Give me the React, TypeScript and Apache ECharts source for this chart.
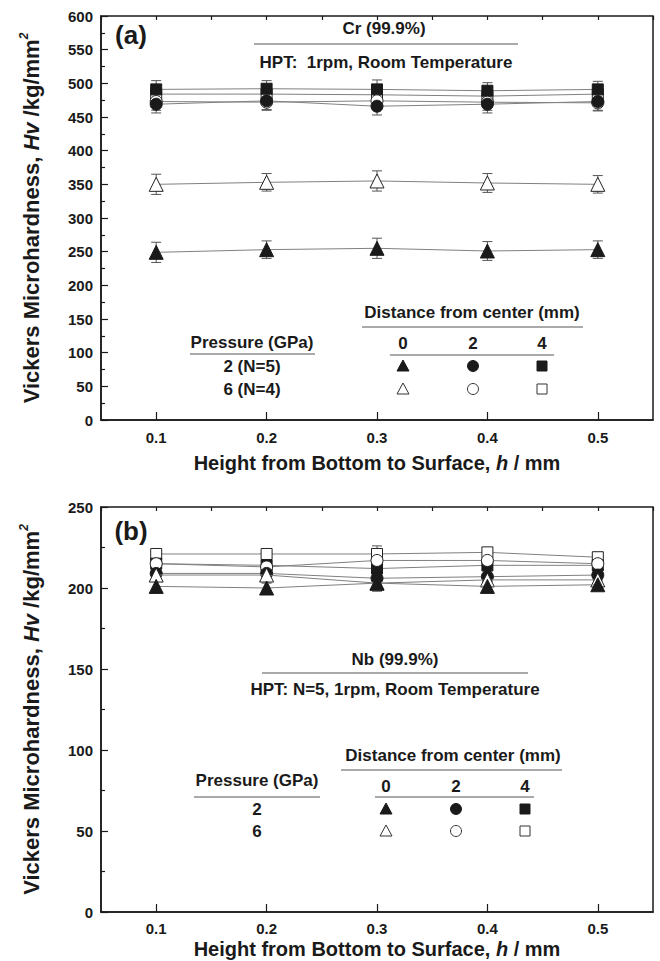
import React, { useEffect, useRef } from 'react';
import * as echarts from 'echarts';

// ---------- data ----------
const heights = [0.1, 0.2, 0.3, 0.4, 0.5];

// Panel (a) Cr: Pressure (GPa) / Distance from center (mm)
const crP2D0 = [249, 253, 255, 251, 253];
const crP2D0Err = [15, 13, 15, 14, 13];
const crP6D0 = [350, 353, 355, 352, 350];
const crP6D0Err = [15, 13, 15, 14, 13];
const crP2D2 = [469, 474, 466, 469, 473];
const crP2D2Err = [13, 13, 13, 13, 13];
const crP6D2 = [473, 472, 474, 472, 471];
const crP6D2Err = [13, 12, 13, 12, 12];
const crP2D4 = [491, 492, 491, 489, 491];
const crP2D4Err = [13, 12, 14, 12, 12];
const crP6D4 = [484, 484, 483, 481, 484];
const crP6D4Err = [12, 12, 13, 12, 12];

// Panel (b) Nb
const nbP2D0 = [201, 200, 203, 201, 202];
const nbP2D0Err = [3, 3, 3, 3, 3];
const nbP6D0 = [208, 208, 203, 205, 205];
const nbP6D0Err = [3, 3, 5, 3, 3];
const nbP2D2 = [209, 209, 206, 207, 208];
const nbP2D2Err = [3, 3, 3, 3, 3];
const nbP6D2 = [215, 213, 217, 217, 215];
const nbP6D2Err = [3, 3, 3, 3, 3];
const nbP2D4 = [215, 214, 212, 214, 214];
const nbP2D4Err = [3, 3, 3, 3, 3];
const nbP6D4 = [221, 221, 221, 222, 219];
const nbP6D4Err = [3, 3, 5, 3, 3];

const xMajorTicks = [0.1, 0.2, 0.3, 0.4, 0.5];

// ---------- style ----------
const FONT = '"Liberation Sans", Arial, Helvetica, sans-serif';
const INK = '#1a1a1a';
const LINE_GRAY = '#808080';
const ERR_GRAY = '#555';

type Spec = { data: number[]; err: number[]; symbol: string; filled: boolean; size: number };

const symSize = (s: string) => (s === 'triangle' ? 14 : s === 'circle' ? 12 : 11);

function makeSeries(specs: Spec[], axisIdx: number, gridXIdx: number) {
  const out: any[] = [];
  specs.forEach((s, i) => {
    out.push({
      type: 'custom',
      xAxisIndex: gridXIdx,
      yAxisIndex: axisIdx,
      z: 2,
      silent: true,
      data: heights.map((h, k) => [h, s.data[k] - s.err[k], s.data[k] + s.err[k]]),
      encode: { x: 0, y: [1, 2] },
      renderItem: (params: any, api: any) => {
        const x = api.value(0);
        const lo = api.coord([x, api.value(1)]);
        const hi = api.coord([x, api.value(2)]);
        const w = 5;
        const st = { stroke: ERR_GRAY, lineWidth: 1 };
        return {
          type: 'group',
          children: [
            { type: 'line', shape: { x1: lo[0], y1: lo[1], x2: hi[0], y2: hi[1] }, style: st },
            { type: 'line', shape: { x1: lo[0] - w, y1: lo[1], x2: lo[0] + w, y2: lo[1] }, style: st },
            { type: 'line', shape: { x1: hi[0] - w, y1: hi[1], x2: hi[0] + w, y2: hi[1] }, style: st },
          ],
        };
      },
    });
    out.push({
      type: 'line',
      xAxisIndex: gridXIdx,
      yAxisIndex: axisIdx,
      z: 3 + i,
      data: heights.map((h, k) => [h, s.data[k]]),
      symbol: s.symbol,
      symbolSize: s.size,
      showSymbol: true,
      lineStyle: { color: LINE_GRAY, width: 1 },
      itemStyle: s.filled
        ? { color: INK, borderColor: INK, borderWidth: 1 }
        : { color: '#fff', borderColor: '#222', borderWidth: 1 },
      emphasis: { disabled: true },
    });
  });
  return out;
}

const specsA: Spec[] = [
  { data: crP2D0, err: crP2D0Err, symbol: 'triangle', filled: true, size: symSize('triangle') },
  { data: crP6D0, err: crP6D0Err, symbol: 'triangle', filled: false, size: symSize('triangle') },
  { data: crP6D4, err: crP6D4Err, symbol: 'rect', filled: false, size: symSize('rect') },
  { data: crP2D4, err: crP2D4Err, symbol: 'rect', filled: true, size: symSize('rect') },
  { data: crP6D2, err: crP6D2Err, symbol: 'circle', filled: false, size: symSize('circle') },
  { data: crP2D2, err: crP2D2Err, symbol: 'circle', filled: true, size: symSize('circle') },
];
const specsB: Spec[] = [
  { data: nbP6D4, err: nbP6D4Err, symbol: 'rect', filled: false, size: symSize('rect') },
  { data: nbP2D4, err: nbP2D4Err, symbol: 'rect', filled: true, size: symSize('rect') },
  { data: nbP6D2, err: nbP6D2Err, symbol: 'circle', filled: false, size: symSize('circle') },
  { data: nbP2D2, err: nbP2D2Err, symbol: 'circle', filled: true, size: symSize('circle') },
  { data: nbP6D0, err: nbP6D0Err, symbol: 'triangle', filled: false, size: symSize('triangle') },
  { data: nbP2D0, err: nbP2D0Err, symbol: 'triangle', filled: true, size: symSize('triangle') },
];

const yName = {
  name: '{a|Vickers Microhardness, }{i|Hv}{a| /kg/mm}{s|2}',
  nameLocation: 'middle' as const,
  nameGap: 56,
  nameTextStyle: {
    rich: {
      a: { fontFamily: FONT, fontWeight: 'bold', fontSize: 22, color: INK, lineHeight: 27 },
      i: { fontFamily: FONT, fontWeight: 'bold', fontStyle: 'italic', fontSize: 22, color: INK, lineHeight: 27 },
      s: { fontFamily: FONT, fontWeight: 'bold', fontStyle: 'italic', fontSize: 12, color: INK, lineHeight: 27, verticalAlign: 'top' },
    },
  },
};
function xName(gap: number) {
  return {
    name: '{a|Height from Bottom to Surface, }{i|h}{a| / mm}',
    nameLocation: 'middle' as const,
    nameGap: gap,
    nameTextStyle: {
      rich: {
        a: { fontFamily: FONT, fontWeight: 'bold', fontSize: 20, color: INK },
        i: { fontFamily: FONT, fontWeight: 'bold', fontStyle: 'italic', fontSize: 20, color: INK },
      },
    },
  };
}

const axisLine = { show: true, lineStyle: { color: INK, width: 1.5 } };
const tickLabel = { fontFamily: FONT, fontWeight: 'bold', fontSize: 15, color: INK };

function xAxesFor(gridIndex: number, gap: number, labelMargin: number) {
  return [
    {
      type: 'value',
      gridIndex,
      min: 0.05,
      max: 0.55,
      interval: 0.05,
      axisLine,
      splitLine: { show: false },
      axisTick: { show: true, inside: true, length: 8, customValues: xMajorTicks, lineStyle: { color: INK, width: 1.2 } },
      axisLabel: {
        ...tickLabel,
        margin: labelMargin,
        customValues: xMajorTicks,
        formatter: (v: number) => {
          const r = Math.round(v * 100);
          return r % 10 === 0 ? (r / 100).toFixed(1) : '';
        },
      },
      ...xName(gap),
    },
    {
      type: 'value',
      gridIndex,
      min: 0.05,
      max: 0.55,
      interval: 0.05,
      axisLine: { show: false },
      splitLine: { show: false },
      axisTick: { show: true, inside: true, length: 4, lineStyle: { color: INK, width: 1.2 } },
      axisLabel: { show: false },
    },
  ];
}

function yAxisFor(gridIndex: number, max: number) {
  return {
    type: 'value',
    gridIndex,
    min: 0,
    max,
    interval: 50,
    axisLine,
    splitLine: { show: false },
    axisTick: { show: true, inside: true, length: 7, lineStyle: { color: INK, width: 1.2 } },
    minorTick: { show: true, splitNumber: 2, length: 4, lineStyle: { color: INK, width: 1.2 } },
    minorSplitLine: { show: false },
    axisLabel: { ...tickLabel, margin: 8 },
    ...yName,
  };
}

// ---------- annotation helpers ----------
function txt(text: string, x: number, y: number, size: number, italic = false, align = 'center') {
  return {
    type: 'text',
    x,
    y,
    silent: true,
    z: 50,
    style: {
      text,
      fill: INK,
      font: `${italic ? 'italic ' : ''}bold ${size}px ${FONT}`,
      align,
      verticalAlign: 'middle',
      textAlign: align,
      textVerticalAlign: 'middle',
    },
  };
}
function hline(x1: number, x2: number, y: number) {
  return { type: 'line', silent: true, z: 50, shape: { x1, y1: y, x2, y2: y }, style: { stroke: '#555', lineWidth: 1 } };
}
function marker(kind: string, filled: boolean, cx: number, cy: number) {
  const style = filled ? { fill: INK, stroke: INK, lineWidth: 1 } : { fill: '#fff', stroke: '#333', lineWidth: 1 };
  if (kind === 'triangle') {
    return { type: 'polygon', silent: true, z: 50, shape: { points: [[cx, cy - 6], [cx + 6, cy + 5], [cx - 6, cy + 5]] }, style };
  }
  if (kind === 'circle') {
    return { type: 'circle', silent: true, z: 50, shape: { cx, cy, r: 5.5 }, style };
  }
  return { type: 'rect', silent: true, z: 50, shape: { x: cx - 5, y: cy - 5, width: 10, height: 10 }, style };
}

function legendBlock(opts: {
  distY: number; distX: number; distLine: [number, number, number];
  presX: number; presY: number; presLine: [number, number, number];
  colXs: number[]; headY: number; headLine: [number, number, number];
  row1: string; row2: string; row1Y: number; row2Y: number;
}) {
  const els: any[] = [];
  els.push(txt('Distance from center (mm)', opts.distX, opts.distY, 17));
  els.push(hline(opts.distLine[0], opts.distLine[1], opts.distLine[2]));
  els.push(txt('Pressure (GPa)', opts.presX, opts.presY, 17));
  els.push(hline(opts.presLine[0], opts.presLine[1], opts.presLine[2]));
  ['0', '2', '4'].forEach((t, i) => els.push(txt(t, opts.colXs[i], opts.headY, 17)));
  els.push(hline(opts.headLine[0], opts.headLine[1], opts.headLine[2]));
  els.push(txt(opts.row1, opts.presX, opts.row1Y, 17));
  els.push(txt(opts.row2, opts.presX, opts.row2Y, 17));
  const kinds = ['triangle', 'circle', 'rect'];
  kinds.forEach((k, i) => {
    els.push(marker(k, true, opts.colXs[i], opts.row1Y));
    els.push(marker(k, false, opts.colXs[i], opts.row2Y));
  });
  return els;
}

const graphics: any[] = [
  // panel (a)
  txt('(a)', 131, 35, 26),
  txt('Cr (99.9%)', 384, 28, 17),
  hline(254, 518, 44),
  txt('HPT:  1rpm, Room Temperature', 386, 62, 17),
  ...legendBlock({
    distX: 472, distY: 312, distLine: [362, 583, 327],
    presX: 252, presY: 342, presLine: [190, 315, 354],
    colXs: [403, 473, 542], headY: 343, headLine: [390, 554, 355],
    row1: '2 (N=5)', row2: '6 (N=4)', row1Y: 366, row2Y: 389,
  }),
  // panel (b)
  txt('(b)', 131, 531, 26),
  txt('Nb (99.9%)', 395, 659, 17),
  hline(262, 528, 673),
  txt('HPT: N=5, 1rpm, Room Temperature', 395, 689, 17),
  ...legendBlock({
    distX: 453, distY: 755, distLine: [341, 562, 770],
    presX: 257, presY: 780, presLine: [194, 320, 797],
    colXs: [386, 456, 525], headY: 786, headLine: [375, 534, 797],
    row1: '2', row2: '6', row1Y: 809, row2Y: 831,
  }),
];

const option: any = {
  animation: false,
  backgroundColor: '#fff',
  grid: [
    { left: 101, top: 16, width: 552, height: 404, show: true, borderColor: INK, borderWidth: 1.5, backgroundColor: 'transparent' },
    { left: 101, top: 507, width: 552, height: 405, show: true, borderColor: INK, borderWidth: 1.5, backgroundColor: 'transparent' },
  ],
  xAxis: [...xAxesFor(0, 33, 10), ...xAxesFor(1, 27, 9)],
  yAxis: [yAxisFor(0, 600), yAxisFor(1, 250)],
  series: [...makeSeries(specsA, 0, 0), ...makeSeries(specsB, 1, 2)],
  graphic: graphics,
};

export default function App() {
  const ref = useRef<HTMLDivElement>(null);
  useEffect(() => {
    const chart = echarts.init(ref.current as HTMLDivElement, null, { renderer: 'svg' });
    chart.setOption(option);
    return () => chart.dispose();
  }, []);
  return <div ref={ref} style={{ position: 'fixed', left: 0, top: 0, width: 660, height: 961, background: '#fff' }} />;
}
